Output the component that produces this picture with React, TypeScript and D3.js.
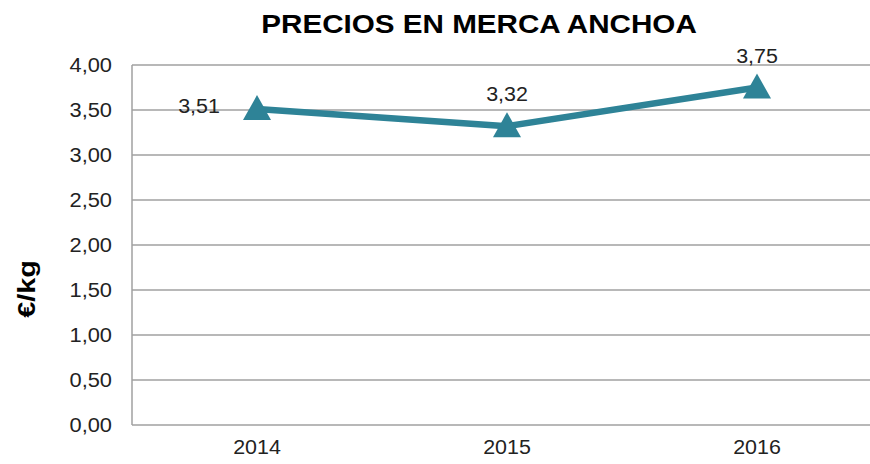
import { useEffect, useRef } from 'react';
import * as d3 from 'd3';

// datos del gráfico
const years = ['2014', '2015', '2016'];
const prices = [3.51, 3.32, 3.75];
const yTicks = [0, 0.5, 1, 1.5, 2, 2.5, 3, 3.5, 4];
const labelPos = ['left', 'top', 'top'];

const TEAL = '#2E8397';
const FONT = '"Liberation Sans", Arial, sans-serif';

// triángulo tipo Excel (ancho 28, alto 25)
const excelTriangle = {
  draw(ctx: d3.Path, _size: number) {
    ctx.moveTo(0, -14);
    ctx.lineTo(14, 11);
    ctx.lineTo(-14, 11);
    ctx.closePath();
  },
};

export default function App() {
  const svgRef = useRef<SVGSVGElement>(null);
  const width = 870;
  const height = 464;

  useEffect(() => {
    if (!svgRef.current) return;
    const svg = d3.select(svgRef.current);
    svg.selectAll('*').remove();

    const margin = { top: 65, right: -12, bottom: 39, left: 132 };
    const plotW = width - margin.left - margin.right;
    const plotH = height - margin.top - margin.bottom;

    const x = d3.scaleBand<string>().domain(years).range([0, plotW]);
    const y = d3.scaleLinear().domain([0, 4]).range([plotH, 0]);
    const fmt = (v: number) => v.toFixed(2).replace('.', ',');
    const cx = (yr: string) => x(yr)! + x.bandwidth() / 2;

    const g = svg.append('g').attr('transform', `translate(${margin.left},${margin.top})`);

    // ── rejilla ──
    g.selectAll('.grid')
      .data(yTicks)
      .enter()
      .append('line')
      .attr('x1', 0)
      .attr('x2', plotW)
      .attr('y1', (d) => y(d))
      .attr('y2', (d) => y(d))
      .attr('stroke', '#a0a0a0')
      .attr('stroke-width', 1.5);

    // eje vertical
    g.append('line')
      .attr('x1', 0).attr('x2', 0)
      .attr('y1', 0).attr('y2', plotH)
      .attr('stroke', '#a0a0a0')
      .attr('stroke-width', 1.5);

    // etiquetas eje Y
    g.selectAll('.ytick')
      .data(yTicks)
      .enter()
      .append('text')
      .attr('transform', (d) => `translate(-20,${y(d) + 7}) scale(1.12,1)`)
      .attr('text-anchor', 'end')
      .attr('font-family', FONT)
      .attr('font-size', '19.5px')
      .attr('fill', '#222')
      .text((d) => fmt(d));

    // etiquetas eje X
    g.selectAll('.xtick')
      .data(years)
      .enter()
      .append('text')
      .attr('transform', (d) => `translate(${cx(d)},${plotH + 29}) scale(1.1,1)`)
      .attr('text-anchor', 'middle')
      .attr('font-family', FONT)
      .attr('font-size', '19.5px')
      .attr('fill', '#222')
      .text((d) => d);

    // ── línea ──
    const pts = years.map((yr, i) => ({ yr, v: prices[i], pos: labelPos[i] }));
    const line = d3.line<{ yr: string; v: number }>()
      .x((d) => cx(d.yr))
      .y((d) => y(d.v));

    g.append('path')
      .datum(pts)
      .attr('d', line)
      .attr('fill', 'none')
      .attr('stroke', TEAL)
      .attr('stroke-width', 6.5)
      .attr('stroke-linejoin', 'round');

    // marcadores triangulares
    const tri = d3.symbol().type(excelTriangle);
    g.selectAll('.marker')
      .data(pts)
      .enter()
      .append('path')
      .attr('d', tri)
      .attr('transform', (d) => `translate(${cx(d.yr)},${y(d.v)})`)
      .attr('fill', TEAL);

    // etiquetas de datos
    g.selectAll('.dlabel')
      .data(pts)
      .enter()
      .append('text')
      .attr('transform', (d) => {
        const lx = cx(d.yr) + (d.pos === 'left' ? -58 : 0);
        const ly = y(d.v) + (d.pos === 'left' ? 4 : -25);
        return `translate(${lx},${ly}) scale(1.1,1)`;
      })
      .attr('text-anchor', 'middle')
      .attr('font-family', FONT)
      .attr('font-size', '19.5px')
      .attr('fill', '#222')
      .text((d) => fmt(d.v));

    // título
    svg.append('text')
      .attr('transform', 'translate(479,33) scale(1.14,1)')
      .attr('text-anchor', 'middle')
      .attr('font-family', FONT)
      .attr('font-weight', 'bold')
      .attr('font-size', '26px')
      .attr('fill', '#000')
      .text('PRECIOS EN MERCA ANCHOA');

    // título eje Y
    svg.append('text')
      .attr('transform', 'translate(35,289) rotate(-90) scale(1.2,1)')
      .attr('text-anchor', 'middle')
      .attr('font-family', FONT)
      .attr('font-weight', 'bold')
      .attr('font-size', '24px')
      .attr('fill', '#000')
      .text('€/kg');
  }, []);

  return (
    <svg
      ref={svgRef}
      width={width}
      height={height}
      style={{ position: 'absolute', left: 0, top: 0, background: '#fff' }}
    />
  );
}
